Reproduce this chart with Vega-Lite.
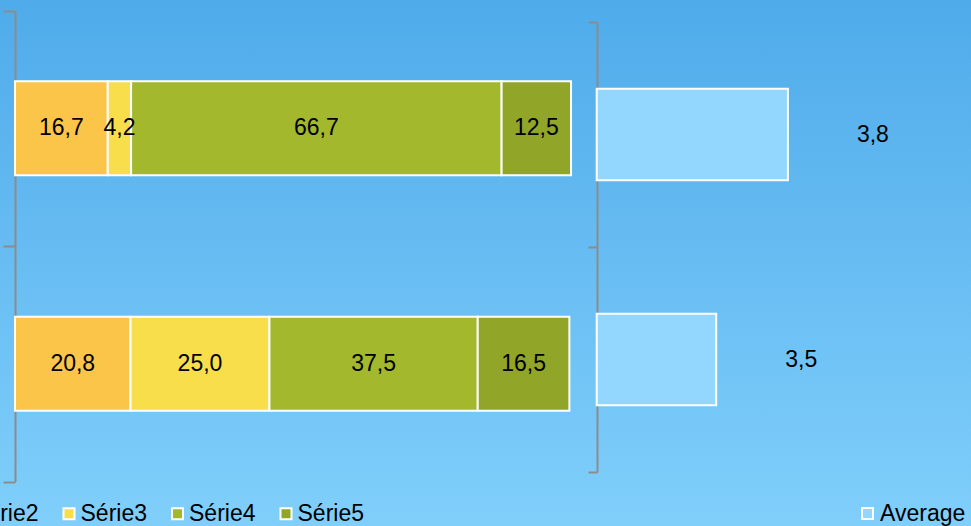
{
  "$schema": "https://vega.github.io/schema/vega-lite/v6.json",
  "width": 971,
  "height": 526,
  "autosize": "none",
  "padding": 0,
  "background": "#66BCF1",
  "config": {
    "view": {"stroke": null, "fill": {"gradient": "linear", "x1": 0, "y1": 0, "x2": 0, "y2": 1, "stops": [{"offset": 0, "color": "#4FABEA"}, {"offset": 1, "color": "#80CFFB"}]}},
    "font": "Liberation Sans",
    "locale": {"number": {"decimal": ",", "thousands": " ", "grouping": [3], "currency": ["", " €"]}},
    "text": {"font": "Liberation Sans", "fontSize": 23, "color": "#000000"},
    "legend": {"labelFont": "Liberation Sans", "labelFontSize": 23, "labelColor": "#000000"}
  },
  "datasets": {
    "series": [
      {"cat": "1", "serie": "Série2", "value": 16.7},
      {"cat": "1", "serie": "Série3", "value": 4.2},
      {"cat": "1", "serie": "Série4", "value": 66.7},
      {"cat": "1", "serie": "Série5", "value": 12.5},
      {"cat": "2", "serie": "Série2", "value": 20.8},
      {"cat": "2", "serie": "Série3", "value": 25.0},
      {"cat": "2", "serie": "Série4", "value": 37.5},
      {"cat": "2", "serie": "Série5", "value": 16.5}
    ],
    "avg": [
      {"cat": "1", "average": 3.8},
      {"cat": "2", "average": 3.5}
    ]
  },
  "layer": [
    {
      "data": {"name": "series"},
      "encoding": {
        "y": {
          "field": "cat", "type": "nominal",
          "scale": {"range": [10.5, 481.5], "paddingInner": 0, "paddingOuter": 0},
          "axis": {"orient": "left", "offset": -15, "labels": false, "title": null, "tickBand": "extent", "tickSize": 12, "domainColor": "#8C8C8C", "tickColor": "#8C8C8C", "domainWidth": 2, "tickWidth": 2, "grid": false}
        },
        "x": {
          "field": "value", "type": "quantitative", "stack": "zero",
          "scale": {"domain": [-2.7, 172.1], "nice": false, "zero": false},
          "axis": null
        },
        "order": {"field": "serie", "sort": "ascending"}
      },
      "layer": [
        {
          "mark": {"type": "bar", "height": {"band": 0.4}, "stroke": "#FFFFFF", "strokeWidth": 2},
          "encoding": {
            "color": {
              "field": "serie", "type": "nominal",
              "scale": {"domain": ["Série2", "Série3", "Série4", "Série5"], "range": ["#FBC54A", "#F8DE4A", "#A3B82C", "#91A528"]},
              "legend": {"orient": "none", "legendX": -51, "legendY": 502, "direction": "horizontal", "title": null, "symbolType": "square", "symbolSize": 121, "symbolStrokeColor": "#FFFFFF", "symbolStrokeWidth": 2, "columnPadding": 18.5, "labelOffset": 0, "padding": 0}
            }
          }
        },
        {
          "mark": {"type": "text"},
          "encoding": {
            "x": {"field": "value", "type": "quantitative", "stack": "zero", "bandPosition": 0.5},
            "detail": {"field": "serie"},
            "text": {"field": "value", "type": "quantitative", "format": ".1f"}
          }
        }
      ]
    },
    {
      "data": {"name": "avg"},
      "encoding": {
        "y": {
          "field": "cat", "type": "nominal",
          "scale": {"range": [22, 472], "paddingInner": 0, "paddingOuter": 0},
          "axis": {"orient": "left", "offset": -597, "labels": false, "title": null, "tickBand": "extent", "tickSize": 9, "domainColor": "#8C8C8C", "tickColor": "#8C8C8C", "domainWidth": 2, "tickWidth": 2, "grid": false}
        },
        "x": {
          "field": "average", "type": "quantitative",
          "scale": {"domain": [0.5033, 4.566], "nice": false, "zero": false},
          "axis": null
        }
      },
      "layer": [
        {
          "mark": {"type": "bar", "height": {"band": 0.407}, "stroke": "#FFFFFF", "strokeWidth": 2},
          "encoding": {
            "x2": {"datum": 3},
            "color": {
              "datum": "Average", "type": "nominal",
              "scale": {"range": ["#93D7FF"]},
              "legend": {"orient": "none", "legendX": 856, "legendY": 502, "direction": "horizontal", "title": null, "symbolType": "square", "symbolSize": 121, "symbolStrokeColor": "#FFFFFF", "symbolStrokeWidth": 2, "labelOffset": 1, "padding": 0}
            }
          }
        },
        {
          "mark": {"type": "text", "dx": 85},
          "encoding": {
            "text": {"field": "average", "type": "quantitative", "format": ".1f"}
          }
        }
      ]
    }
  ],
  "resolve": {"scale": {"x": "independent", "y": "independent", "color": "independent"}}
}
